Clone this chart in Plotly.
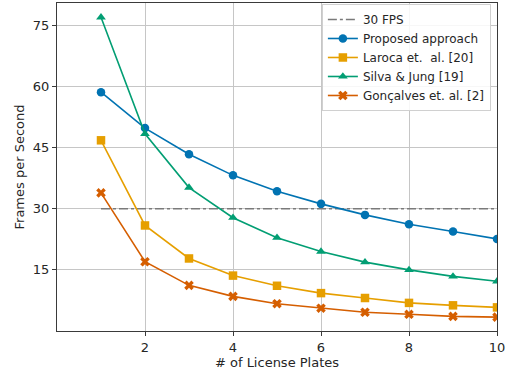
import plotly.graph_objects as go

plates = [1, 2, 3, 4, 5, 6, 7, 8, 9, 10]
fps_line_x = [1, 10]
fps_line_y = [30, 30]
proposed = [58.6, 49.8, 43.4, 38.2, 34.3, 31.2, 28.5, 26.2, 24.4, 22.6]
laroca = [46.8, 25.9, 17.8, 13.6, 11.1, 9.3, 8.1, 6.9, 6.3, 5.8]
silva = [77.0, 48.4, 35.2, 27.8, 22.9, 19.5, 16.9, 15.0, 13.4, 12.2]
goncalves = [33.9, 17.0, 11.2, 8.5, 6.7, 5.6, 4.6, 4.1, 3.6, 3.4]

x_ticks = [2, 4, 6, 8, 10]
y_ticks = [15, 30, 45, 60, 75]

FONT = "DejaVu Sans"
TXT = "#262626"
FS = 13

fig = go.Figure()
fig.add_trace(go.Scatter(x=fps_line_x, y=fps_line_y, mode="lines", name="30 FPS",
                         line=dict(color="#7a7a7a", width=1.6, dash="dashdot")))
series = [
    ("Proposed approach", proposed, "#0173B2", "circle"),
    ("Laroca et.  al. [20]", laroca, "#E69F00", "square"),
    ("Silva & Jung [19]", silva, "#029E73", "triangle-up"),
    ("Gonçalves et. al. [2]", goncalves, "#D55E00", "x"),
]
for name, ys, col, sym in series:
    fig.add_trace(go.Scatter(x=plates, y=ys, mode="lines+markers", name=name,
                             line=dict(color=col, width=1.6),
                             marker=dict(symbol=sym, size=8.5, color=col, line=dict(width=0))))

axis_common = dict(showline=True, linecolor="#3a3a3a", linewidth=1.2, mirror=True,
                   showgrid=True, gridcolor="#c6c6c6", gridwidth=1,
                   ticks="outside", ticklen=4, tickcolor="#3a3a3a",
                   tickfont=dict(family=FONT, size=FS, color=TXT),
                   zeroline=False, automargin=False)
fig.update_xaxes(range=[0, 10], tickvals=x_ticks,
                 title=dict(text="# of License Plates", font=dict(family=FONT, size=FS, color=TXT), standoff=4),
                 **axis_common)
fig.update_yaxes(range=[0, 80.5], tickvals=y_ticks,
                 title=dict(text="Frames per Second", font=dict(family=FONT, size=FS, color=TXT), standoff=5),
                 **axis_common)
fig.update_layout(
    width=509, height=373,
    margin=dict(l=57, r=12, t=3, b=42),
    plot_bgcolor="white", paper_bgcolor="white",
    font=dict(family=FONT, size=FS, color=TXT),
    legend=dict(x=0.602, y=0.997, xanchor="left", yanchor="top",
                bgcolor="rgba(255,255,255,0.85)", bordercolor="#d0d0d0", borderwidth=1,
                font=dict(family=FONT, size=12, color=TXT),
                tracegroupgap=0, itemwidth=30),
    showlegend=True,
)
fig.write_html("out.html", config={"displayModeBar": False},
               post_script="document.body.style.margin='0';document.body.style.overflow='hidden';")
